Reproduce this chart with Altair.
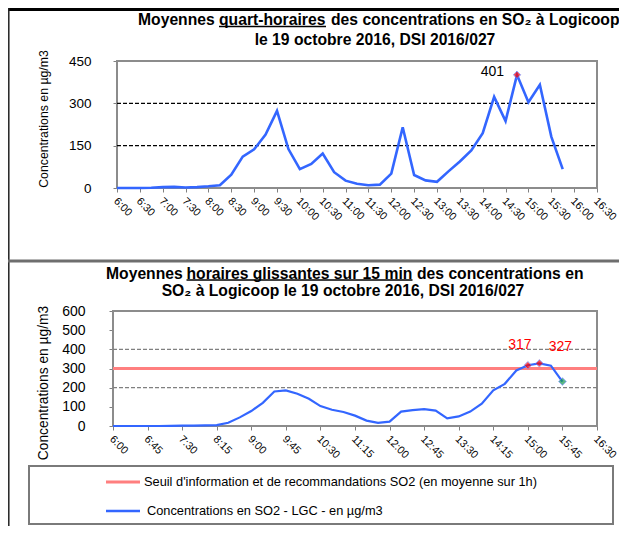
import altair as alt
import pandas as pd

# ---------------- data ----------------
times = ["6:00", "6:15", "6:30", "6:45", "7:00", "7:15", "7:30", "7:45", "8:00", "8:15",
         "8:30", "8:45", "9:00", "9:15", "9:30", "9:45", "10:00", "10:15", "10:30", "10:45",
         "11:00", "11:15", "11:30", "11:45", "12:00", "12:15", "12:30", "12:45", "13:00", "13:15",
         "13:30", "13:45", "14:00", "14:15", "14:30", "14:45", "15:00", "15:15", "15:30", "15:45"]
quart_horaire = [0, 0, 0, 1, 3, 4, 2, 3, 6, 10,
                 47, 111, 137, 189, 273, 138, 67, 85, 122, 56,
                 26, 15, 10, 12, 51, 215, 46, 27, 22, 59,
                 94, 133, 194, 323, 237, 401, 304, 366, 182, 67]
horaire_glissante = [0, 0, 0, 0, 0, 1, 2, 2, 3, 5,
                     17, 45, 78, 121, 180, 186, 168, 142, 104, 85,
                     73, 54, 28, 16, 23, 75, 83, 88, 80, 40,
                     50, 75, 116, 186, 220, 290, 317, 327, 315, 232]
top_x_ticks = ["6:00", "6:30", "7:00", "7:30", "8:00", "8:30", "9:00", "9:30", "10:00", "10:30",
               "11:00", "11:30", "12:00", "12:30", "13:00", "13:30", "14:00", "14:30", "15:00",
               "15:30", "16:00", "16:30"]
bottom_x_ticks = ["6:00", "6:45", "7:30", "8:15", "9:00", "9:45", "10:30", "11:15", "12:00",
                  "12:45", "13:30", "14:15", "15:00", "15:45", "16:30"]
top_y_ticks = [0, 150, 300, 450]
bottom_y_ticks = [0, 100, 200, 300, 400, 500, 600]
top_grid = [150, 300]
bottom_grid = [200, 400]
seuil = [300]
top_peak_time = ["14:45"]
top_peak_value = [401]
bottom_peak_times = ["15:00", "15:15"]
bottom_peak_values = [317, 327]
bottom_last_time = ["15:45"]
bottom_last_value = [232]

FONT = "Liberation Sans"
W, H = 611, 518
BLUE = "#3366ff"
SALMON = "#ff7f7f"


def to_min(s):
    h, m = s.split(":")
    return (int(h) - 6) * 60 + int(m)


DOMAIN_X = [0, to_min("16:30")]
label_expr = ("floor(datum.value/60)+6 + ':' + (datum.value % 60 < 10 ? '0' : '') + (datum.value % 60)")

top_df = pd.DataFrame({"t": [to_min(s) for s in times], "v": quart_horaire})
bot_df = pd.DataFrame({"t": [to_min(s) for s in times], "v": horaire_glissante})
one = pd.DataFrame({"a": [0]})

# scales (pixel ranges inside the single canvas)
top_xs = alt.Scale(domain=DOMAIN_X, range=[109, 589], nice=False, zero=False)
top_ys = alt.Scale(domain=[0, 450], range=[180, 53], nice=False)
bot_xs = alt.Scale(domain=DOMAIN_X, range=[105, 589], nice=False, zero=False)
bot_ys = alt.Scale(domain=[0, 600], range=[418, 303], nice=False)


def xaxis(ticks, y_pix):
    return alt.Axis(orient="bottom", offset=y_pix - H, values=[to_min(s) for s in ticks],
                    labelExpr=label_expr, labelAngle=45, labelAlign="left", labelBaseline="top",
                    labelFontSize=10.8, labelFont=FONT, labelColor="black", labelPadding=3,
                    labelOffset=2,
                    labelFlush=False, labelOverlap=False, labelBound=False,
                    domain=False, ticks=True, tickColor="#808080", tickSize=4, tickWidth=1,
                    grid=False, title=None)


def yaxis(ticks, x_pix, size, pad):
    return alt.Axis(orient="left", offset=-x_pix, values=ticks, labelFontSize=size,
                    labelFont=FONT, labelColor="black", labelPadding=pad,
                    labelFlush=False, labelOverlap=False,
                    domain=False, ticks=True, tickColor="#808080", tickSize=4, tickWidth=1,
                    grid=False, title=None)


# ---------------- top panel ----------------
t_xaxis = xaxis(top_x_ticks, 180)
t_yaxis = yaxis(top_y_ticks, 109, 13.5, 22)
t_line = alt.Chart(top_df).mark_line(color=BLUE, strokeWidth=2.6).encode(
    x=alt.X("t:Q", scale=top_xs, axis=t_xaxis),
    y=alt.Y("v:Q", scale=top_ys, axis=t_yaxis),
)
t_grid = alt.Chart(pd.DataFrame({"g": top_grid})).mark_rule(
    color="black", strokeWidth=1.2, strokeDash=[4, 2]).encode(
    y=alt.Y("g:Q", scale=top_ys, axis=t_yaxis),
    x=alt.XDatum(DOMAIN_X[0], scale=top_xs, axis=t_xaxis), x2=alt.datum(DOMAIN_X[1]))
t_frame = alt.Chart(one).mark_rect(fillOpacity=0, stroke="#8c8c8c", strokeWidth=2).encode(
    x=alt.XDatum(DOMAIN_X[0], scale=top_xs, axis=t_xaxis), x2=alt.datum(DOMAIN_X[1]),
    y=alt.YDatum(0, scale=top_ys, axis=t_yaxis), y2=alt.datum(450))
t_peak_df = pd.DataFrame({"t": [to_min(s) for s in top_peak_time], "v": top_peak_value})
t_peak = alt.Chart(t_peak_df).mark_point(shape="diamond", filled=True, size=55, color="red",
                                         stroke="#6f8cff", strokeWidth=1).encode(
    x=alt.X("t:Q", scale=top_xs, axis=t_xaxis), y=alt.Y("v:Q", scale=top_ys, axis=t_yaxis))
t_peak_lbl = alt.Chart(t_peak_df).mark_text(align="right", baseline="middle", dx=-13, dy=-3,
                                            fontSize=14, font=FONT, color="black").encode(
    x=alt.X("t:Q", scale=top_xs, axis=t_xaxis), y=alt.Y("v:Q", scale=top_ys, axis=t_yaxis),
    text="v:Q")
top = alt.layer(t_frame, t_grid, t_line, t_peak, t_peak_lbl)

# ---------------- bottom panel ----------------
b_xaxis = xaxis(bottom_x_ticks, 418)
b_yaxis = yaxis(bottom_y_ticks, 105, 14, 24)
b_line = alt.Chart(bot_df).mark_line(color=BLUE, strokeWidth=2.2).encode(
    x=alt.X("t:Q", scale=bot_xs, axis=b_xaxis),
    y=alt.Y("v:Q", scale=bot_ys, axis=b_yaxis),
)
b_grid = alt.Chart(pd.DataFrame({"g": bottom_grid})).mark_rule(
    color="#808080", strokeWidth=1.2, strokeDash=[4, 2]).encode(
    y=alt.Y("g:Q", scale=bot_ys, axis=b_yaxis),
    x=alt.XDatum(DOMAIN_X[0], scale=bot_xs, axis=b_xaxis), x2=alt.datum(DOMAIN_X[1]))
b_seuil = alt.Chart(pd.DataFrame({"s": seuil})).mark_rule(color=SALMON, strokeWidth=3).encode(
    y=alt.Y("s:Q", scale=bot_ys, axis=b_yaxis),
    x=alt.XDatum(DOMAIN_X[0], scale=bot_xs, axis=b_xaxis), x2=alt.datum(DOMAIN_X[1]))
b_frame = alt.Chart(one).mark_rect(fillOpacity=0, stroke="#8c8c8c", strokeWidth=2).encode(
    x=alt.XDatum(DOMAIN_X[0], scale=bot_xs, axis=b_xaxis), x2=alt.datum(DOMAIN_X[1]),
    y=alt.YDatum(0, scale=bot_ys, axis=b_yaxis), y2=alt.datum(600))
b_peak_df = pd.DataFrame({"t": [to_min(s) for s in bottom_peak_times], "v": bottom_peak_values})
b_peak = alt.Chart(b_peak_df).mark_point(shape="diamond", filled=True, size=55, color="red",
                                         stroke="#6f8cff", strokeWidth=1).encode(
    x=alt.X("t:Q", scale=bot_xs, axis=b_xaxis), y=alt.Y("v:Q", scale=bot_ys, axis=b_yaxis))
b_lbl1 = alt.Chart(b_peak_df.iloc[[0]]).mark_text(align="center", baseline="middle", dx=-8, dy=-20,
                                                  fontSize=14, font=FONT, color="red").encode(
    x=alt.X("t:Q", scale=bot_xs, axis=b_xaxis), y=alt.Y("v:Q", scale=bot_ys, axis=b_yaxis),
    text="v:Q")
b_lbl2 = alt.Chart(b_peak_df.iloc[[1]]).mark_text(align="center", baseline="middle", dx=21, dy=-16,
                                                  fontSize=14, font=FONT, color="red").encode(
    x=alt.X("t:Q", scale=bot_xs, axis=b_xaxis), y=alt.Y("v:Q", scale=bot_ys, axis=b_yaxis),
    text="v:Q")
b_last_df = pd.DataFrame({"t": [to_min(s) for s in bottom_last_time], "v": bottom_last_value})
b_last = alt.Chart(b_last_df).mark_point(shape="diamond", filled=True, size=60, color="#159a50",
                                         stroke="#6f8cff", strokeWidth=1).encode(
    x=alt.X("t:Q", scale=bot_xs, axis=b_xaxis), y=alt.Y("v:Q", scale=bot_ys, axis=b_yaxis))
bottom = alt.layer(b_frame, b_grid, b_seuil, b_line, b_peak, b_last, b_lbl1, b_lbl2)


# ---------------- decoration (titles, frames, legend) ----------------
def txt(s, x, y, size, bold=False, align="left", color="black", angle=0):
    return alt.Chart(one).mark_text(text=s, align=align, baseline="middle", fontSize=size,
                                    fontWeight="bold" if bold else "normal", font=FONT,
                                    color=color, angle=angle).encode(
        x=alt.value(x), y=alt.value(y))


def hrule(x1, x2, y, color, w):
    return alt.Chart(one).mark_rule(color=color, strokeWidth=w).encode(
        x=alt.value(x1), x2=alt.value(x2), y=alt.value(y))


def vrule(x, y1, y2, color, w):
    return alt.Chart(one).mark_rule(color=color, strokeWidth=w).encode(
        x=alt.value(x), y=alt.value(y1), y2=alt.value(y2))


TS = 15.7
deco = [
    # panel frames
    alt.Chart(one).mark_rect(color="black").encode(
        x=alt.value(0), x2=alt.value(W), y=alt.value(0), y2=alt.value(3)),
    vrule(0.8, 0, H, "#222222", 1.5),
    hrule(0, W, 253, "#6e6e6e", 3),
    # top title
    txt("Moyennes", 130, 12, TS, True),
    txt("quart-horaires", 211, 12, TS, True),
    txt("des concentrations en SO\u2082 à Logicoop", 323, 12, TS, True),
    hrule(211, 318, 18.5, "black", 1.4),
    txt("le 19 octobre 2016, DSI 2016/027", 367, 32, TS, True, align="center"),
    txt("Concentrations en µg/m3", 36, 111, 12.3, angle=270, align="center"),
    # bottom title
    txt("Moyennes", 98, 266, TS, True),
    txt("horaires glissantes sur 15 min", 178.5, 266, TS, True),
    txt("des concentrations en", 409, 266, TS, True),
    hrule(178.5, 404.5, 272, "black", 1.4),
    txt("SO\u2082 à Logicoop le 19 octobre 2016, DSI 2016/027", 335, 283, TS, True, align="center"),
    txt("Concentrations en µg/m3", 36, 375, 13.8, angle=270, align="center"),
    # legend
    alt.Chart(one).mark_rect(fillOpacity=0, stroke="#7a7a7a", strokeWidth=2).encode(
        x=alt.value(21), x2=alt.value(605), y=alt.value(458), y2=alt.value(516)),
    hrule(98, 132, 474, SALMON, 3),
    txt("Seuil d'information et de recommandations SO2 (en moyenne sur 1h)", 136, 474, 12.8),
    hrule(98, 132, 503, BLUE, 2.5),
    txt("Concentrations en SO2 - LGC - en µg/m3", 139, 503, 12.8),
]

chart = alt.layer(top, bottom, *deco).resolve_scale(
    x="independent", y="independent"
).properties(
    width=W, height=H, padding=0,
    autosize=alt.AutoSizeParams(type="none"),
).configure_view(stroke=None).configure_axis(labelOverlap=False, labelFlush=False)

chart.save("out.html", embed_options={"renderer": "svg", "actions": False})
